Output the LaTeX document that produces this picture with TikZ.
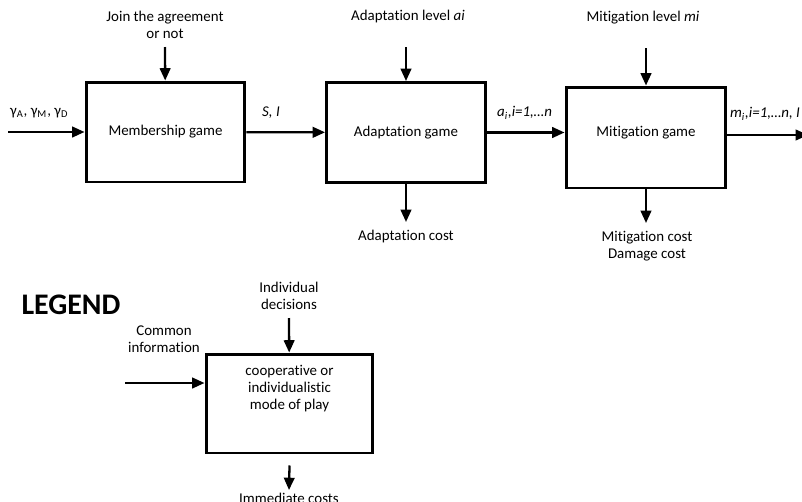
\documentclass[tikz,border=0pt]{standalone}
\usepackage{fontspec}
\setmainfont{Carlito}[Ligatures=NoCommon]
\usetikzlibrary{arrows.meta}
\tikzset{
  game/.style={draw,line width=1.7pt,minimum width=3.18cm,minimum height=2cm,inner sep=2pt,align=center},
  flow/.style={line width=1.3pt,-{Triangle[length=7pt,width=6pt]}},
  txt/.style={align=center,inner sep=1pt},
}
\begin{document}
\begin{tikzpicture}[x=0.02cm,y=-0.02cm,every node/.style={font=\fontsize{8.5}{9.6}\selectfont}]
  \useasboundingbox (0,0) rectangle (802,501);
  % the three games
  \node[game] (member) at (165.5,132) {Membership game};
  \node[game] (adapt) at (406,132.5) {Adaptation game};
  \node[game,minimum width=3.2cm,minimum height=2.02cm,label={[yshift=0.1cm]center:Mitigation game}] (mitig) at (646,137.5) {};
  % free ends
  \coordinate (gin) at (8,132);
  \coordinate (joinin) at (165,47);
  \coordinate (ain) at (406,47);
  \coordinate (min) at (646,48);
  \coordinate (aout) at (406,222);
  \coordinate (mout) at (646,223);
  \coordinate (out) at (808,135);
  % labels
  \node[txt,anchor=west] (gam) at (8,113) {γ\textsubscript{A}, γ\textsubscript{M}, γ\textsubscript{D}};
  \node[txt] (join) at (165,25) {Join the agreement\\or not};
  \node[txt] (si) at (271,113) {\textit{S, I}};
  \node[txt] (alev) at (408,17) {Adaptation level \textit{ai}};
  \node[txt,anchor=west] (ai) at (495,113) {\textit{a\textsubscript{i},i=1,…n}};
  \node[txt] (mlev) at (643,18) {Mitigation level \textit{mi}};
  \node[txt,anchor=west] (mi) at (728,114) {\textit{m\textsubscript{i},i=1,…n, I}};
  \node[txt] (acost) at (406,237) {Adaptation cost};
  \node[txt] (mcost) at (647,246) {Mitigation cost\\Damage cost};
  % flows
  \draw[flow] (gin) -- (member);
  \draw[flow] (joinin) -- (member);
  \draw[flow] (member) -- (adapt);
  \draw[flow] (ain) -- (adapt);
  \draw[flow] (adapt) -- (adapt -| mitig.west);
  \draw[flow] (min) -- (mitig);
  \draw[flow] (adapt.south) -- (aout);
  \draw[flow] (mitig.south) -- (mout);
  \draw[flow] (mitig.east |- out) -- (out);

  % legend
  \node[font=\fontsize{17}{19}\selectfont\bfseries] (legend) at (71,305) {LEGEND};
  \node[game,minimum width=3.34cm,minimum height=1.98cm,label={[yshift=0.3cm,align=center]center:cooperative or\\individualistic\\mode of play}] (mode) at (289.5,403.5) {};
  \coordinate (decin) at (289,318);
  \coordinate (infoin) at (125,383);
  \coordinate (costout) at (289,490);
  \node[txt] (dec) at (289,296) {Individual\\decisions};
  \node[txt] (info) at (164,339) {Common\\information};
  \node[txt] (imm) at (289,498) {Immediate costs};
  \draw[flow] (decin) -- (mode);
  \draw[flow] (infoin) -- (mode.west |- infoin);
  \draw[flow] (mode.south) ++(0,11) -- (costout);
\end{tikzpicture}
\end{document}
